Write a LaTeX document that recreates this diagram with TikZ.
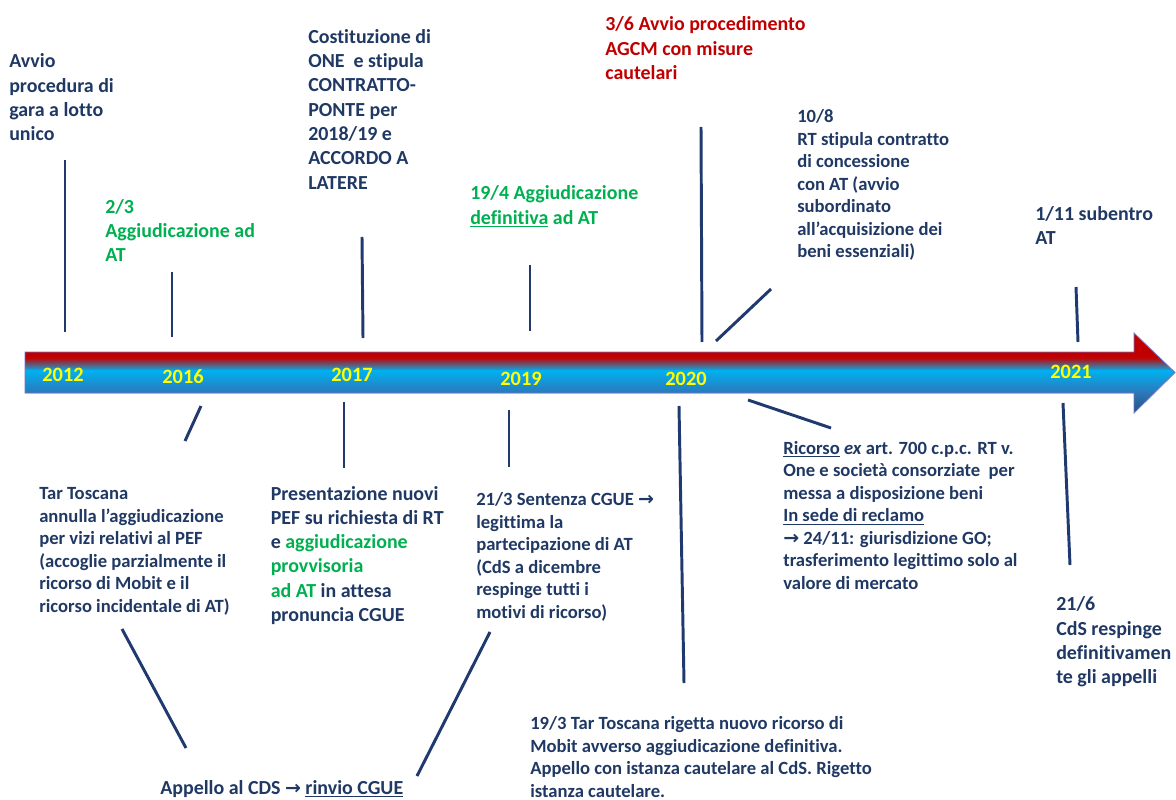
\documentclass[tikz,border=0pt]{standalone}
\usepackage{fontspec}
\setmainfont{Carlito}[Ligatures={NoCommon}]
\newfontfamily\arrowfont{DejaVu Sans}
\definecolor{navy}{RGB}{31,56,100}
\definecolor{lnavy}{RGB}{32,58,112}
\definecolor{gr}{RGB}{0,176,80}
\definecolor{dred}{RGB}{192,0,0}
\definecolor{yel}{RGB}{255,255,0}
\definecolor{cyanb}{RGB}{0,176,240}
\definecolor{midb}{RGB}{46,117,182}
\definecolor{darkb}{RGB}{31,78,121}
\definecolor{arrborder}{RGB}{110,120,200}
\newcommand\tlbig{\fontsize{14.17}{17.3}\selectfont\bfseries}
\newcommand\tlsmall{\fontsize{13.25}{15.95}\selectfont\bfseries}
\newcommand\tlyear{\fontsize{14.5}{16}\selectfont\bfseries}
\newcommand\rarr{{\arrowfont\bfseries\fontsize{13.5}{12}\selectfont →}}
\tikzset{
  x=0.025cm, y=-0.025cm,
  txt/.style={anchor=north west, inner sep=0pt, align=left, text=navy},
  big/.style={txt, font=\tlbig},
  small/.style={txt, font=\tlsmall},
  yr/.style={inner sep=0pt, text=yel, font=\tlyear},
  conn/.style={draw=lnavy, line width=2.1pt},
}
\begin{document}
\begin{tikzpicture}
\useasboundingbox (0,0) rectangle (1176,800);
% timeline arrow
\begin{scope}
\clip (25,352) -- (1134,352) -- (1134,333) -- (1175,372.5) -- (1134,413) -- (1134,393) -- (25,393) -- cycle;
\fill[dred] (20,325) rectangle (1180,358);
\shade[top color=dred, bottom color=cyanb] (20,357.5) rectangle (1180,371);
\shade[top color=cyanb, bottom color=midb] (20,370.5) rectangle (1180,394);
\shade[top color=midb, bottom color=darkb] (20,393.5) rectangle (1180,415);
\end{scope}
\draw[arrborder, line width=0.6pt] (25,352) -- (1134,352) -- (1134,333) -- (1175,372.5) -- (1134,413) -- (1134,393) -- (25,393) -- cycle;
% years
\node[yr] (y2012) at (63,375) {2012};
\node[yr] (y2016) at (183,377) {2016};
\node[yr] (y2017) at (352,375) {2017};
\node[yr] (y2019) at (521,379) {2019};
\node[yr] (y2020) at (686,379) {2020};
\node[yr] (y2021) at (1071,372) {2021};
% upper texts
\node[big] (tA) at (9,50.5) {\strut Avvio\\procedura di\\gara a lotto\\unico};
\node[big, text=gr] (tB) at (105,196) {\strut 2/3\\Aggiudicazione ad\\AT};
\node[big] (tC) at (308,26) {\strut Costituzione di\\ONE\ \ e stipula\\CONTRATTO-\\PONTE per\\2018/19 e\\ACCORDO A\\LATERE};
\node[big, text=gr] (tD) at (470,182.5) {\strut 19/4 Aggiudicazione\\\underline{definitiva} ad AT};
\node[big, text=dred] (tE) at (605,13.4) {\strut 3/6 Avvio procedimento\\AGCM con misure\\cautelari};
\node[small] (tF) at (797,107) {\strut 10/8\\RT stipula contratto\\di concessione\\con AT (avvio\\subordinato\\all’acquisizione dei\\beni essenziali)};
\node[big] (tG) at (1035,203) {\strut 1/11 subentro\\AT};
% lower texts
\node[small] (tH) at (39,484) {\strut Tar Toscana\\annulla l’aggiudicazione\\per vizi relativi al PEF\\(accoglie parzialmente il\\ricorso di Mobit e il\\ricorso incidentale di AT)};
\node[big] (tI) at (270.5,482.7) {\strut Presentazione nuovi\\PEF su richiesta di RT\\e \textcolor{gr}{aggiudicazione}\\\textcolor{gr}{provvisoria}\\\textcolor{gr}{ad AT} in attesa\\pronuncia CGUE};
\node[small] (tJ) at (476,490) {\strut 21/3 Sentenza CGUE \rarr\\legittima la\\partecipazione di AT\\(CdS a dicembre\\respinge tutti i\\motivi di ricorso)};
\node[small] (tK) at (783,438.5) {\strut \underline{Ricorso} \textit{ex} art. 700 c.p.c. RT v.\\One e società consorziate\ \ per\\messa a disposizione beni\\\underline{In sede di reclamo}\\\rarr\ 24/11: giurisdizione GO;\\trasferimento legittimo solo al\\valore di mercato};
\node[big] (tL) at (1056,593.4) {\strut 21/6\\CdS respinge\\definitivamen\\te gli appelli};
\node[small] (tM) at (530,714) {\strut 19/3 Tar Toscana rigetta nuovo ricorso di\\Mobit avverso aggiudicazione definitiva.\\Appello con istanza cautelare al CdS. Rigetto\\istanza cautelare.};
\node[big] (tN) at (160,777) {\strut Appello al CDS \rarr\ \underline{rinvio CGUE}};
% connector end points
\coordinate (c1a) at (65,160);   \coordinate (c1b) at (65,332);
\coordinate (c2a) at (172,272);  \coordinate (c2b) at (172,337);
\coordinate (c3a) at (362,237);  \coordinate (c3b) at (363,338);
\coordinate (c4a) at (530,265);  \coordinate (c4b) at (530,331);
\coordinate (c5a) at (701,127);  \coordinate (c5b) at (702,342);
\coordinate (c6a) at (771,289);  \coordinate (c6b) at (716,341);
\coordinate (c7a) at (1076,287); \coordinate (c7b) at (1078,342);
\coordinate (d1a) at (201,406);  \coordinate (d1b) at (185,441);
\coordinate (d2a) at (344,402);  \coordinate (d2b) at (344,468);
\coordinate (d3a) at (509,410);  \coordinate (d3b) at (509,467);
\coordinate (d4a) at (679,406);  \coordinate (d4b) at (684,683);
\coordinate (d5a) at (748,400);  \coordinate (d5b) at (831,428);
\coordinate (d6a) at (1063,403); \coordinate (d6b) at (1070,565);
\coordinate (d7a) at (122,629);  \coordinate (d7b) at (186,748);
\coordinate (d8a) at (490,632);  \coordinate (d8b) at (417,776);
\foreach \p in {c1,c2,c3,c4,c5,c6,c7,d1,d2,d3,d4,d5,d6,d7,d8}
  \draw[conn] (\p a) -- (\p b);
\end{tikzpicture}
\end{document}
